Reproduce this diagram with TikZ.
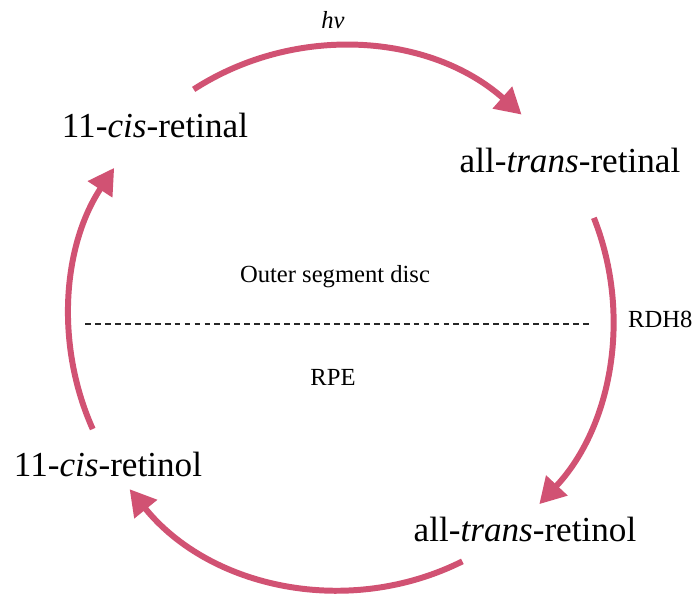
\documentclass[tikz,border=0pt]{standalone}
\usepackage{fontspec}
\setmainfont{Liberation Serif}
\usetikzlibrary{arrows.meta}
\definecolor{cyclepink}{RGB}{209,82,115}

\begin{document}
\begin{tikzpicture}[x=0.03cm, y=0.03cm,
    cyc/.style={draw=cyclepink, line width=5.1pt, -{Triangle[length=22pt, width=24pt]}},
    big/.style={font=\fontsize{30}{36}\selectfont, anchor=base, inner sep=0pt},
    small/.style={font=\fontsize{21}{25}\selectfont, anchor=base, inner sep=0pt}]
        % 1. Fix the page size
        \useasboundingbox (0,0) rectangle (699,599);

        % 2. Points on the cycle
        \coordinate (ctr) at (341,281);
        \path (ctr) ++(122.8:272) coordinate (a1);
        \path (ctr) ++(21.6:272) coordinate (a2);
        \path (ctr) ++(-63.5:272) coordinate (a3);
        \path (ctr) ++(204.1:272) coordinate (a4);

        % 3. The four arrows of the cycle
        \draw[cyc] (a1) arc[start angle=122.8, end angle=48.4, radius=272];
        \draw[cyc] (a2) arc[start angle=21.6, end angle=-43.2, radius=272];
        \draw[cyc] (a3) arc[start angle=-63.5, end angle=-141, radius=272];
        \draw[cyc] (a4) arc[start angle=204.1, end angle=146.5, radius=272];

        % 4. The retinoids
        \node[big] (cisal) at (155,461) {11-\textit{cis}-retinal};
        \node[big] (transal) at (570,426) {all-\textit{trans}-retinal};
        \node[big] (transol) at (525,57) {all-\textit{trans}-retinol};
        \node[big] (cisol) at (108,122) {11-\textit{cis}-retinol};

        % 5. Border between disc and RPE
        \coordinate (dl) at (85,275);
        \coordinate (dr) at (590,275);
        \draw[black!85, line width=1.3pt, dash pattern=on 5pt off 3.5pt] (dl) -- (dr);

        % 6. Small labels
        \node[small] (light) at (333,570) {\textit{hv}};
        \node[small] (disc) at (335,316) {Outer segment disc};
        \node[small] (rpe) at (333,213) {RPE};
        \node[small, anchor=base west] (rdh) at (628,271) {RDH8};
\end{tikzpicture}
\end{document}
